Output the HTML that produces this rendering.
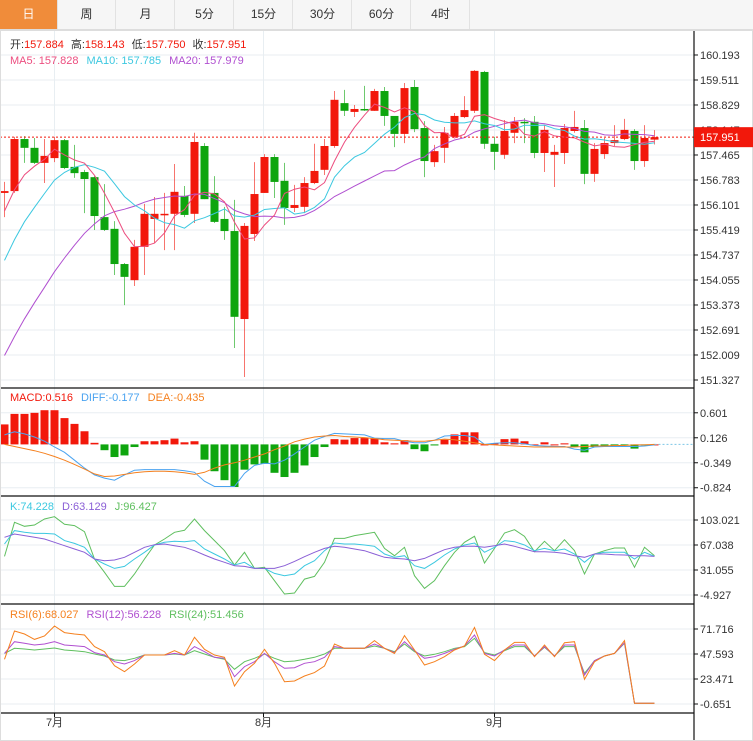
<!DOCTYPE html>
<html><head><meta charset="utf-8">
<style>
html,body{margin:0;padding:0;background:#fff;}
body{width:753px;height:741px;overflow:hidden;font-family:"Liberation Sans","Noto Sans CJK SC",sans-serif;}
#tabs{position:absolute;left:0;top:0;width:753px;height:30px;background:#f6f6f6;border-bottom:1px solid #ddd;box-sizing:border-box;}
.tab{position:absolute;top:0;height:29px;width:58px;line-height:29px;text-align:center;font-size:12px;color:#333;border-right:1px solid #e2e2e2;box-sizing:border-box;}
.tab.on{background:#f08c3a;color:#fff;}
svg{position:absolute;left:0;top:0;}
</style></head><body>
<div id="tabs">
<div class="tab on" style="left:0">日</div>
<div class="tab" style="left:58px">周</div>
<div class="tab" style="left:117px">月</div>
<div class="tab" style="left:176px">5分</div>
<div class="tab" style="left:235px">15分</div>
<div class="tab" style="left:294px">30分</div>
<div class="tab" style="left:353px">60分</div>
<div class="tab" style="left:412px">4时</div>
</div>
<svg id="chart" width="753" height="741"></svg>
<script>
const opens=[156.43,156.48,157.90,157.66,157.25,157.38,157.87,157.14,157.00,156.86,155.77,155.45,154.49,154.05,154.96,155.72,155.83,155.86,156.35,155.86,157.71,156.43,155.72,155.39,152.99,155.31,156.43,157.41,156.76,156.02,156.05,156.70,157.06,157.71,158.88,158.64,158.72,158.67,159.21,158.53,158.04,159.32,158.20,157.27,157.66,157.96,158.50,158.67,159.73,157.77,157.47,158.07,158.37,158.37,157.52,157.47,157.52,158.12,158.20,156.95,157.49,157.79,157.90,158.12,157.30,157.884];
const closes=[156.48,157.90,157.66,157.25,157.44,157.87,157.11,156.97,156.81,155.80,155.42,154.49,154.14,154.96,155.86,155.86,155.86,156.46,155.83,157.82,156.26,155.64,155.39,153.05,155.53,156.40,157.41,156.73,156.02,156.10,156.70,157.03,157.71,158.97,158.67,158.72,158.69,159.21,158.53,158.04,159.29,158.17,157.30,157.57,158.07,158.53,158.69,159.76,157.77,157.55,158.12,158.37,158.34,157.52,158.15,157.55,158.20,158.23,156.95,157.63,157.79,157.87,158.15,157.30,157.93,157.951];
const highs=[156.73,157.96,157.98,157.93,157.90,157.96,157.90,157.74,157.06,156.89,156.67,155.66,154.52,155.15,156.13,156.32,156.43,157.22,156.62,158.07,157.79,156.89,156.05,156.24,155.61,157.27,157.49,157.49,157.25,156.65,156.86,157.77,157.90,159.21,159.24,158.83,159.35,159.27,159.32,158.53,159.43,159.51,158.39,157.74,158.23,158.61,159.07,159.78,159.76,157.96,158.42,158.50,158.47,158.53,158.28,157.74,158.31,158.67,158.42,157.79,157.93,158.28,158.45,158.17,158.28,158.143];
const lows=[155.77,156.43,157.25,157.22,156.70,157.27,157.08,156.84,155.88,155.42,155.39,154.19,153.37,153.89,154.19,155.06,154.87,154.87,155.77,155.61,156.26,155.61,155.15,152.20,151.41,155.12,156.43,156.29,155.56,155.91,155.88,156.67,156.92,157.66,158.53,158.50,158.67,158.67,158.26,157.68,157.79,158.09,156.86,157.14,157.25,157.96,158.47,158.61,157.63,157.06,157.36,157.79,157.79,157.38,157.00,156.59,157.22,158.07,156.67,156.73,157.36,157.71,157.87,157.06,157.14,157.750];
const priorCloses=[147.5,148,148.5,149,149.4,149.6,150,150.3,150.7,151,152.2,152.8,153.3,153.7,154.2,155.0,155.6,156.1,156.5];
const macdHist=[0.38,0.58,0.58,0.60,0.65,0.65,0.50,0.39,0.25,0.03,-0.11,-0.24,-0.21,-0.05,0.06,0.06,0.08,0.11,0.04,0.06,-0.29,-0.51,-0.68,-0.81,-0.48,-0.38,-0.37,-0.54,-0.62,-0.54,-0.40,-0.24,-0.05,0.10,0.09,0.12,0.12,0.11,0.04,0.02,0.08,-0.09,-0.13,-0.02,0.09,0.19,0.23,0.23,0,0.02,0.10,0.11,0.06,0,0.04,0,0.02,-0.05,-0.15,-0.05,-0.02,-0.02,-0.02,-0.08,-0.01,0];
const diffVals=[0.18,0.24,0.20,0.14,0.06,-0.05,-0.15,-0.30,-0.45,-0.58,-0.64,-0.68,-0.58,-0.49,-0.48,-0.48,-0.48,-0.48,-0.50,-0.53,-0.70,-0.80,-0.80,-0.80,-0.55,-0.40,-0.36,-0.37,-0.30,-0.18,-0.05,0.08,0.15,0.21,0.20,0.19,0.18,0.12,0.11,0.11,0.06,0.03,0.03,0.08,0.16,0.17,0.17,0.14,0,0.02,0.03,0.03,0.01,-0.02,-0.03,-0.04,-0.04,-0.09,-0.11,-0.05,-0.04,-0.04,-0.04,-0.04,-0.03,-0.01];
const deaVals=[0.0,-0.04,-0.08,-0.12,-0.17,-0.23,-0.30,-0.38,-0.47,-0.56,-0.61,-0.60,-0.57,-0.54,-0.52,-0.51,-0.51,-0.52,-0.54,-0.57,-0.53,-0.45,-0.39,-0.35,-0.30,-0.24,-0.18,-0.10,-0.03,0.05,0.10,0.14,0.16,0.17,0.15,0.14,0.13,0.11,0.09,0.08,0.07,0.06,0.06,0.08,0.10,0.09,0.06,0.03,0.0,-0.01,-0.02,-0.03,-0.04,-0.05,-0.05,-0.05,-0.05,-0.05,-0.04,-0.03,-0.03,-0.02,-0.02,-0.01,-0.01,0];
const kVals=[68.5,87.7,85.3,83.8,83.8,82.9,73.3,69.4,63.7,46.9,39.7,33.4,36.3,46.9,56.5,67.0,70.9,72.3,71.8,73.3,61.3,54.1,46.9,38.2,42.1,33.4,33.4,26.2,22.9,25.3,37.3,44.5,58.9,69.9,68.5,68.5,67.0,65.1,54.1,49.3,51.7,37.3,33.4,42.1,52.6,61.3,67.0,69.9,56.5,63.7,73.3,71.8,67.0,58.9,62.2,58.9,61.3,54.1,42.1,54.1,56.5,56.5,56.5,46.9,56.5,50.7];
const dVals=[78.1,82.9,80.5,78.1,75.7,70.9,66.1,61.3,56.5,46.9,44.5,45.4,49.3,56.5,63.7,67.5,68.5,66.1,63.7,58.9,52.6,46.9,42.1,37.3,36.3,33.4,33.4,33.4,37.3,43.5,50.2,56.5,62.2,65.1,63.7,61.3,58.9,54.1,49.3,47.8,46.9,44.5,47.8,54.1,60.3,63.7,65.1,65.1,63.7,66.1,68.5,65.1,61.3,57.4,57.4,56.5,55.0,51.7,49.3,54.1,54.1,53.1,52.6,51.7,51.7,50.7];
const jVals=[50.7,99.7,93.9,95.8,104.5,107.8,96.8,94.9,86.2,46.9,27.7,7.5,7.5,25.3,46.9,67.0,75.7,85.3,88.2,104.5,87.7,73.3,58.9,38.2,56.5,33.4,34.9,15.7,-3.5,-2.1,18.0,21.9,42.1,76.6,76.6,80.5,82.9,85.3,62.2,51.7,63.7,22.9,4.6,15.7,37.3,56.5,70.9,79.5,41.1,62.2,84.3,89.1,79.5,57.4,72.3,58.9,74.7,58.9,25.3,54.1,58.9,62.7,62.7,34.9,63.7,51.7];
const rsi6=[42.5,69.8,66.9,61.7,65.0,74.6,68.2,66.9,65.9,54.7,49.8,36.3,30.5,37.9,46.6,46.6,46.6,50.8,46.6,63.7,52.1,46.6,44.4,16.7,30.5,38.6,52.1,38.6,20.9,21.5,26.4,29.6,36.0,57.2,53.1,53.1,53.1,60.5,53.1,48.2,65.3,51.5,37.0,40.2,45.0,51.5,55.3,73.3,47.3,41.2,51.5,58.8,58.8,45.0,56.3,45.0,58.5,59.5,23.2,40.2,45.7,48.2,60.5,0,0,0];
const rsi12=[48.2,59.5,57.9,56.3,57.2,59.5,56.3,55.6,54.7,48.9,46.6,40.2,37.9,41.2,46.6,46.6,46.6,48.2,46.6,54.7,49.8,44.4,43.4,25.7,35.4,40.2,48.2,40.2,33.8,34.4,38.6,40.2,44.4,54.7,53.1,53.1,53.1,57.2,53.1,48.9,59.5,50.8,43.4,45.0,48.2,52.1,55.3,65.9,48.2,45.7,51.5,56.3,56.3,45.7,54.7,45.7,56.3,56.3,27.3,41.2,45.7,48.2,58.5,0,0,0];
const rsi24=[48.2,53.1,52.4,51.5,52.4,53.4,51.5,50.8,49.8,47.6,45.7,41.8,41.2,43.4,46.6,46.6,46.6,47.6,46.6,50.8,47.6,44.4,42.5,32.8,40.2,43.4,47.6,43.4,40.2,40.8,42.5,44.4,47.6,53.1,53.1,53.1,53.1,55.3,53.1,49.8,57.2,49.8,45.7,47.3,49.8,53.1,54.7,62.7,48.9,46.6,50.8,54.7,54.7,45.7,54.1,45.7,54.7,54.7,28.9,41.2,45.7,48.2,57.9,0,0,0];
const priceTicks=["160.193","159.511","158.829","158.147","157.465","156.783","156.101","155.419","154.737","154.055","153.373","152.691","152.009","151.327"];
const macdTicks=["0.601","0.126","-0.349","-0.824"];
const kdjTicks=["103.021","67.038","31.055","-4.927"];
const rsiTicks=["71.716","47.593","23.471","-0.651"];
const monthLabels=["7月","8月","9月"];
const monthIndex=[5,25.9,49];

const svg=document.getElementById('chart');
const NS='http://www.w3.org/2000/svg';
function mk(tag,attrs,name,parent){const e=document.createElementNS(NS,tag);for(const k in attrs)e.setAttribute(k,attrs[k]);


(parent||svg).appendChild(e);return e;}
const X=i=>4.5+10*i;
const Yp=p=>(161.693-p)/0.02728;
const Ym=v=>444.4-v*52.6;
const Yk=v=>545-(v-67.038)*25/35.983;
const Yr=v=>654-(v-47.593)*25/24.122;
const RED='#f2180b',GREEN='#0ea50e';

const grid=mk('g',{stroke:'#e8eef2','stroke-width':1},'grid-lines');
priceTicks.forEach(t=>mk('line',{x1:0,x2:694,y1:Yp(+t),y2:Yp(+t)},'price-gridline',grid));
macdTicks.forEach(t=>mk('line',{x1:0,x2:694,y1:Ym(+t),y2:Ym(+t)},'macd-gridline',grid));
kdjTicks.forEach(t=>mk('line',{x1:0,x2:694,y1:Yk(+t),y2:Yk(+t)},'kdj-gridline',grid));
rsiTicks.forEach(t=>mk('line',{x1:0,x2:694,y1:Yr(+t),y2:Yr(+t)},'rsi-gridline',grid));
monthIndex.forEach(m=>mk('line',{x1:X(m),x2:X(m),y1:30,y2:713},'month-gridline',grid));

const defs=mk('defs',{},'defs');
const cp=mk('clipPath',{id:'mainclip'},'main-clip',defs);mk('rect',{x:0,y:31,width:694,height:357},'main-clip-rect',cp);

const cg=mk('g',{},'candles');
for(let i=0;i<closes.length;i++){
 const up=closes[i]>=opens[i]&&!(i===36||i===52);const col=up?RED:GREEN;
 const g=mk('g',{},'candle',cg);
 mk('line',{x1:X(i),x2:X(i),y1:Yp(highs[i]),y2:Yp(lows[i]),stroke:col,'stroke-opacity':0.6,'stroke-width':1},'candle-wick',g);
 const t=Math.min(Yp(opens[i]),Yp(closes[i])),b=Math.max(Yp(opens[i]),Yp(closes[i]));
 mk('rect',{x:X(i)-4,y:t,width:8,height:Math.max(b-t,1.5),fill:col},'candle-body',g);
}
const all=priorCloses.concat(closes);
function ma(n){return closes.map((c,i)=>{let s=0;const j=i+priorCloses.length;for(let k=j-n+1;k<=j;k++)s+=all[k];return s/n;});}
const ma5=ma(5),ma10=ma(10),ma20=ma(20);
function line(arr,yf,col,name,clip){const d=arr.map((v,i)=>(i?'L':'M')+X(i).toFixed(1)+','+yf(v).toFixed(1)).join('');
 const a={d:d,fill:'none',stroke:col,'stroke-width':1};if(clip)a['clip-path']='url(#mainclip)';return mk('path',a,name);}
line(ma20,Yp,'#b04fd0','ma20-line',1);
line(ma10,Yp,'#3cc8e0','ma10-line',1);
line(ma5,Yp,'#ec4d7f','ma5-line',1);
mk('line',{x1:0,x2:694,y1:Yp(157.951),y2:Yp(157.951),stroke:RED,'stroke-dasharray':'2,2','stroke-width':1},'last-price-line');

const mg=mk('g',{},'macd-bars');
macdHist.forEach((h,i)=>{const y0=Ym(0),y1=Ym(h);mk('rect',{x:X(i)-4,y:Math.min(y0,y1),width:8,height:Math.max(Math.abs(y1-y0),1),fill:h>=0?RED:GREEN},'macd-bar',mg);});
line(diffVals,Ym,'#4aa3f0','diff-line');
line(deaVals,Ym,'#f5801e','dea-line');
mk('line',{x1:X(65),x2:694,y1:Ym(0),y2:Ym(0),stroke:'#7cc6e6','stroke-dasharray':'2,2'},'macd-zero-extension');

line(jVals,Yk,'#5fbf5f','j-line');
line(kVals,Yk,'#3cc8e0','k-line');
line(dVals,Yk,'#8a5fd6','d-line');

line(rsi24,Yr,'#5fbf5f','rsi24-line');
line(rsi12,Yr,'#b04fd0','rsi12-line');
line(rsi6,Yr,'#f5801e','rsi6-line');

[388,496,604,713].forEach(y=>mk('line',{x1:0,x2:694,y1:y,y2:y,stroke:'#111','stroke-width':1.2},'panel-separator'));
mk('line',{x1:694,x2:694,y1:30,y2:741,stroke:'#111','stroke-width':1.2},'right-axis-line');
mk('rect',{x:0.5,y:30.5,width:752,height:710,fill:'none',stroke:'#ddd'},'chart-border');

function tickLabels(ticks,yf,name){ticks.forEach(t=>{const y=yf(+t);
 mk('line',{x1:694,x2:698,y1:y,y2:y,stroke:'#111'},name+'-tick');
 const tx=mk('text',{x:700,y:y+4,'font-size':11,fill:'#333'},name+'-label');tx.textContent=t;});}
tickLabels(priceTicks,Yp,'price-axis');
tickLabels(macdTicks,Ym,'macd-axis');
tickLabels(kdjTicks,Yk,'kdj-axis');
tickLabels(rsiTicks,Yr,'rsi-axis');
mk('rect',{x:694,y:Yp(157.951)-10,width:59,height:20,fill:RED},'last-price-box');
const lp=mk('text',{x:700,y:Yp(157.951)+4,'font-size':11,fill:'#fff'},'last-price-label');lp.textContent='157.951';
monthLabels.forEach((m,i)=>{const tx=mk('text',{x:X(monthIndex[i]),y:726,'font-size':11,fill:'#333','text-anchor':'middle'},'month-label');tx.textContent=m;
 mk('line',{x1:X(monthIndex[i]),x2:X(monthIndex[i]),y1:713,y2:717,stroke:'#111'},'month-tick');});

function legend(y,items,name){const t=mk('text',{x:10,y:y,'font-size':11},name);
 items.forEach(([s,c],i)=>{const sp=document.createElementNS(NS,'tspan');sp.setAttribute('fill',c);if(i)sp.setAttribute('dx','8');sp.textContent=s;
 
 
 t.appendChild(sp);});}
const ohlc=mk('text',{x:10,y:48,'font-size':11},'ohlc-legend');
[['开:','#333'],['157.884',RED],['高:','#333'],['158.143',RED],['低:','#333'],['157.750',RED],['收:','#333'],['157.951',RED]].forEach(([s,c],i)=>{
 const sp=document.createElementNS(NS,'tspan');sp.setAttribute('fill',c);if(i&&i%2===0)sp.setAttribute('dx','7');sp.textContent=s;
 
 
 ohlc.appendChild(sp);});
legend(64,[['MA5: 157.828','#ec4d7f'],['MA10: 157.785','#3cc8e0'],['MA20: 157.979','#b04fd0']],'ma-legend');
legend(401,[['MACD:0.516',RED],['DIFF:-0.177','#4aa3f0'],['DEA:-0.435','#f5801e']],'macd-legend');
legend(510,[['K:74.228','#3cc8e0'],['D:63.129','#8a5fd6'],['J:96.427','#5fbf5f']],'kdj-legend');
legend(618,[['RSI(6):68.027','#f5801e'],['RSI(12):56.228','#b04fd0'],['RSI(24):51.456','#5fbf5f']],'rsi-legend');
</script>
</body></html>
